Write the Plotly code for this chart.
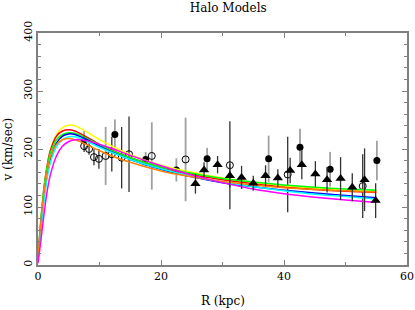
import plotly.graph_objects as go

# ---- data ----
# model curves (v in km/s at radius R in kpc)
model_R = [0, 0.5, 1, 1.5, 2, 3, 4, 5, 6, 7, 8, 10, 12, 15, 20, 25, 30, 35, 40, 45, 50, 55]
model_yellow = [10, 75, 130, 168, 195, 225, 237, 241, 240, 235, 229, 216, 205, 190, 172, 160, 150, 142, 136, 132, 129, 127]
model_red = [12, 80, 135, 172, 197, 222, 231, 233, 231, 226, 220, 208, 198, 185, 168, 156, 147, 140, 134, 130, 127, 125]
model_green = [14, 82, 135, 170, 193, 216, 225, 228, 227, 223, 218, 207, 197, 185, 169, 158, 149, 143, 138, 134, 131, 129]
model_blue = [10, 70, 122, 158, 183, 210, 222, 226, 225, 221, 216, 205, 195, 182, 165, 152, 142, 135, 129, 124, 120, 116]
model_cyan = [8, 62, 112, 150, 176, 204, 216, 221, 221, 218, 213, 203, 194, 182, 166, 153, 143, 135, 128, 122, 118, 114]
model_orange = [12, 78, 128, 162, 186, 208, 216, 218, 216, 212, 207, 197, 188, 177, 162, 152, 144, 138, 133, 130, 128, 126]
model_magenta = [3, 45, 90, 128, 155, 188, 205, 213, 216, 216, 214, 208, 201, 189, 171, 155, 142, 131, 123, 117, 112, 108]

# filled circles (gray error bars)
fc_R = [7.5, 12.5, 17.5, 22.5, 27.5, 37.5, 42.6, 47.5, 55.1]
fc_v = [216, 225, 182, 164, 183, 183, 203, 165, 180]
fc_err = [15, 26, 13, 20, 19, 40, 32, 30, 34]

# open circles with gray error bars
ocg_R = [11.0, 18.5, 24.0]
ocg_v = [188, 188, 182]
ocg_err = [50, 58, 72]

# open circles with black error bars
ocb_R = [7.5, 8.3, 9.1, 9.9, 12.0, 13.6, 14.8, 31.2, 40.6, 52.8]
ocb_v = [205, 200, 186, 183, 191, 185, 191, 172, 156, 136]
ocb_err = [10, 10, 14, 17, 30, 53, 65, 76, 65, 55]

# filled triangles (black error bars)
tri_R = [25.6, 27.0, 29.2, 31.2, 33.1, 35.0, 37.0, 39.0, 41.0, 42.9, 45.1, 47.0, 49.2, 51.1, 53.1, 54.9]
tri_v = [140, 164, 173, 154, 151, 141, 154, 150, 163, 173, 157, 147, 149, 134, 147, 111]
tri_err = [17, 13, 15, 20, 20, 13, 18, 15, 22, 25, 22, 22, 37, 24, 54, 30]

x_ticks = [0, 20, 40, 60]
y_ticks = [0, 100, 200, 300, 400]

FONT = "DejaVu Serif"

fig = go.Figure()

fig.add_trace(go.Scatter(
    x=fc_R, y=fc_v, mode="markers",
    marker=dict(symbol="circle", size=7, color="black"),
    error_y=dict(type="data", array=fc_err, color="#a0a0a0", thickness=1.8, width=0),
    showlegend=False))
fig.add_trace(go.Scatter(
    x=ocg_R, y=ocg_v, mode="markers",
    marker=dict(symbol="circle-open", size=7, color="black", line=dict(width=1)),
    error_y=dict(type="data", array=ocg_err, color="#a0a0a0", thickness=1.8, width=0),
    showlegend=False))
fig.add_trace(go.Scatter(
    x=ocb_R, y=ocb_v, mode="markers",
    marker=dict(symbol="circle-open", size=7, color="black", line=dict(width=1)),
    error_y=dict(type="data", array=ocb_err, color="#333333", thickness=1.3, width=0),
    showlegend=False))

for ys, col in [(model_yellow, "#ffff00"), (model_red, "#ff0000"), (model_green, "#00ff00"),
                (model_blue, "#0000ff"), (model_cyan, "#00ffff"), (model_orange, "#ff8000"),
                (model_magenta, "#ff00ff")]:
    fig.add_trace(go.Scatter(x=model_R, y=ys, mode="lines",
                             line=dict(color=col, width=1.5, shape="spline", smoothing=1.0),
                             showlegend=False, hoverinfo="skip"))

fig.add_trace(go.Scatter(
    x=tri_R, y=tri_v, mode="markers",
    marker=dict(symbol="triangle-up", size=9, color="black"),
    error_y=dict(type="data", array=tri_err, color="#333333", thickness=1.3, width=0),
    showlegend=False))

axis_common = dict(
    showline=True, linecolor="#808080", linewidth=1.5, mirror="ticks",
    ticks="inside", tickcolor="#808080", ticklen=5, tickwidth=1,
    showgrid=False, zeroline=False, automargin=False,
    tickfont=dict(family=FONT, size=11, color="black"),
)

fig.update_xaxes(range=[0, 60], tickvals=x_ticks, ticktext=[str(t) for t in x_ticks],
                 minor=dict(dtick=10, ticks="inside", ticklen=3, tickcolor="#808080"),
                 **axis_common)
fig.update_yaxes(range=[0, 400], tickvals=y_ticks, ticktext=[str(t) for t in y_ticks],
                 tickangle=-90,
                 minor=dict(dtick=20, ticks="inside", ticklen=3, tickcolor="#808080"),
                 **axis_common)

fig.update_layout(
    width=415, height=310,
    margin=dict(l=38, r=8, t=33, b=45),
    paper_bgcolor="white", plot_bgcolor="white",
    title=dict(text="Halo Models", x=0.55, xanchor="center", y=0.975, yanchor="middle",
               font=dict(family=FONT, size=12, color="black")),
    annotations=[
        dict(text="R (kpc)", xref="paper", yref="paper", x=0.501, y=-0.155,
             xanchor="center", yanchor="middle", showarrow=False,
             font=dict(family=FONT, size=12, color="black")),
        dict(text="v (km/sec)", xref="paper", yref="paper", x=-0.08, y=0.5,
             xanchor="center", yanchor="middle", textangle=-90, showarrow=False,
             font=dict(family=FONT, size=12, color="black")),
    ],
)

fig.write_html("out.html", config={"displayModeBar": False},
               post_script="document.body.style.margin='0';document.body.style.overflow='hidden';")
